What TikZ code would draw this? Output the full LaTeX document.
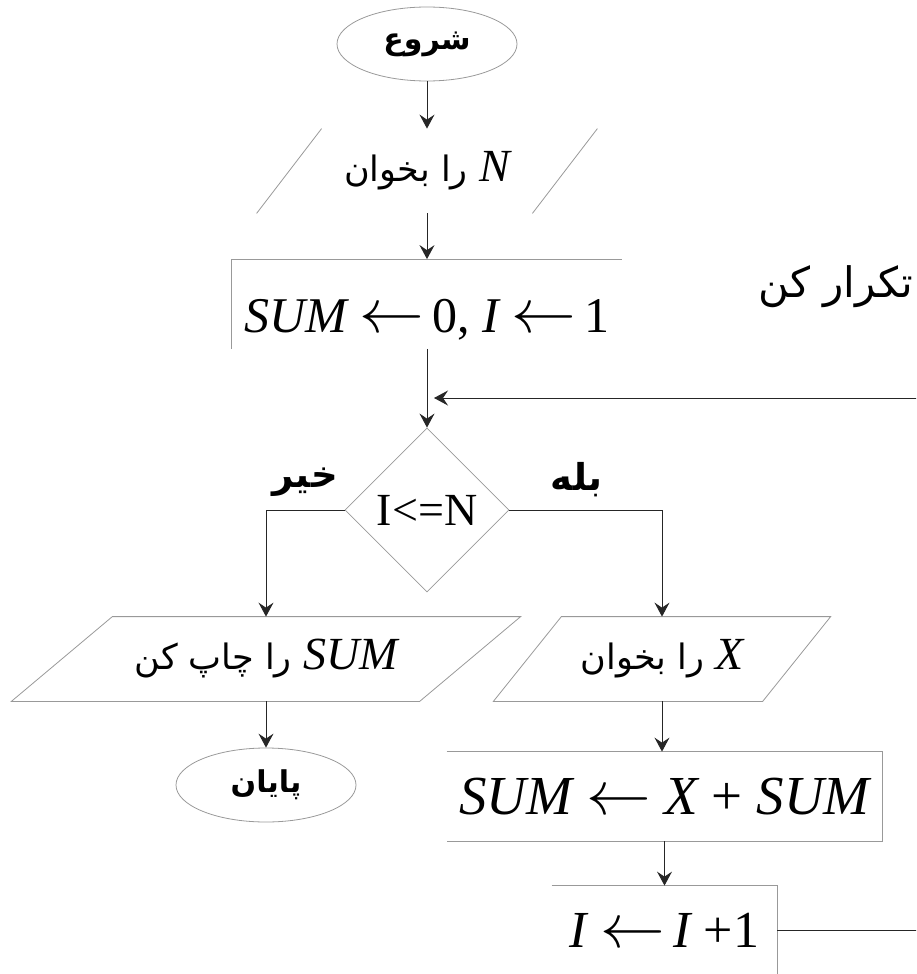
\documentclass[tikz,border=0pt]{standalone}
\usepackage{fontspec}
\setmainfont{Liberation Serif}
\newfontfamily\arabicfont[Script=Arabic]{DejaVu Sans}
\TeXXeTstate=1
\usepackage{graphicx}
\usepackage{tikz}
\usetikzlibrary{shapes.geometric,arrows.meta,calc}
\tikzset{
  faint/.style={draw=black!40,line width=0.4pt},
  flow/.style={-{Stealth[length=7pt,width=7.5pt,inset=2.5pt]},line width=0.5pt,draw=black!85},
  terminal/.style={ellipse,faint,inner sep=0pt,minimum width=90pt,minimum height=37pt,
    font=\arabicfont\bfseries\fontsize{15}{18}\selectfont},
  iobody/.style={inner sep=0pt,minimum height=42pt,font=\fontsize{17.5}{21}\selectfont},
  procbox/.style={inner sep=0pt,minimum height=44.5pt},
  test/.style={diamond,faint,inner sep=0pt,minimum width=82pt,minimum height=82pt,
    font=\fontsize{23}{26}\selectfont},
  answer/.style={font=\arabicfont\bfseries\fontsize{18.5}{22}\selectfont}
}
\newcommand{\rtl}[1]{{\arabicfont\beginR #1\endR}}
\newcommand{\mvar}[1]{{\rmfamily\itshape #1}}
\newcommand{\iovar}[1]{{\rmfamily\itshape\fontsize{23}{26}\selectfont #1}}
\newcommand{\assign}{\scalebox{1.3}[1.25]{$\leftarrow$}}
% parallelogram round a node: slant offset in px
\newcommand{\slantbox}[2]{\draw[faint] ($(#1.south west)+(-#2,0)$) -- ($(#1.north west)+(#2,0)$)
  -- ($(#1.north east)+(#2,0)$) -- ($(#1.south east)+(-#2,0)$) -- cycle;}

\begin{document}
\begin{tikzpicture}[x=0.5pt,y=-0.5pt]
  \useasboundingbox (0,0) rectangle (916,974);
  \clip (0,0) rectangle (916,974);

  % nodes
  \node[terminal] (start) at (427,44) {\rtl{شروع}};
  \node[iobody,minimum width=137.5pt] (readN) at (427,171) {\rtl{\iovar{N} را بخوان}};
  \node[procbox,minimum width=195pt,text height=30pt,text depth=1.5pt,
    font=\fontsize{25}{30}\selectfont] (init) at (427,304)
    {\mvar{SUM} \assign\,0, \mvar{I} \assign\,1};
  \node[test] (cond) at (427,510) {I<=N};
  \node[iobody,minimum width=203.75pt] (print) at (266,659)
    {\rtl{\beginL\iovar{SUM}\endL{} را چاپ کن}};
  \node[iobody,minimum width=134.25pt] (readX) at (662,659) {\rtl{\iovar{X} را بخوان}};
  \node[terminal] (end) at (266,785) {\rtl{پایان}};
  \node[procbox,minimum width=217.5pt,font=\fontsize{27.5}{32}\selectfont] (add) at (664.5,796.5)
    {\mvar{SUM} \assign\ \mvar{X} + \mvar{SUM}};
  \node[procbox,minimum width=112.5pt,font=\fontsize{26}{30}\selectfont] (incr) at (664.5,930.5)
    {\mvar{I} \assign\,\mvar{I} +1};
  \node[font=\fontsize{21}{25}\selectfont] (loopnote) at (836,287) {\rtl{تکرار کن}};
  \coordinate (back) at (434,398);

  % outlines
  \draw[faint] ($(readN.south west)+(-32.5,0)$) -- ($(readN.north west)+(32.5,0)$);
  \draw[faint] ($(readN.south east)+(-32.5,0)$) -- ($(readN.north east)+(32.5,0)$);
  \draw[faint] (init.south west) -- (init.north west) -- (init.north east);
  \slantbox{print}{50.5}
  \slantbox{readX}{34}
  \draw[faint] (add.north west) -- (add.north east) -- (add.south east) -- (add.south west);
  \draw[faint] (incr.north west) -- (incr.north east) -- (incr.south east);

  % connectors
  \draw[flow] (start) -- (readN);
  \draw[flow] (readN) -- (init);
  \draw[flow] (init) -- (cond);
  \draw[flow] (cond.west) -| node[answer,pos=0.25,above=3pt] {\rtl{خیر}} (print.north);
  \draw[flow] (cond.east) -| node[answer,pos=0.22,above=3pt] {\rtl{بله}} (readX.north);
  \draw[flow] (print) -- (end);
  \draw[flow] (readX.south) -- (readX.south |- add.north);
  \draw[flow] (add) -- (incr);
  \draw[flow] (incr.east) -- ++(170,0) |- (back);
\end{tikzpicture}
\end{document}
